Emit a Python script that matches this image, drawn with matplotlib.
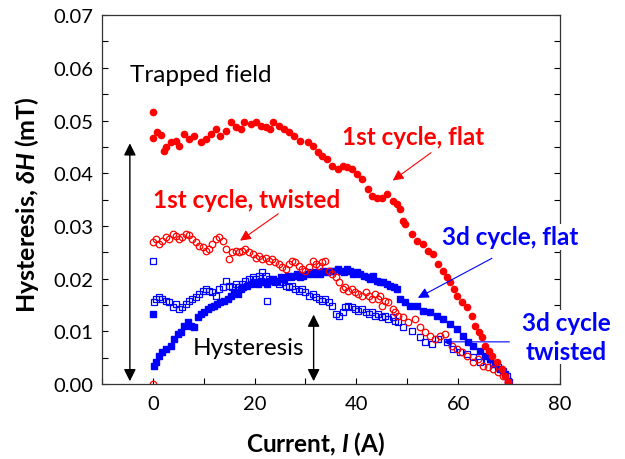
import matplotlib
matplotlib.use('Agg')
import matplotlib.pyplot as plt
from matplotlib.ticker import MultipleLocator

plt.rcParams['font.family'] = ['Lato', 'DejaVu Sans']
plt.rcParams['mathtext.fontset'] = 'custom'
plt.rcParams['mathtext.it'] = 'Lato:bold:italic'
plt.rcParams['mathtext.rm'] = 'Lato:bold'

# 1st cycle, flat (red filled circles)
flat1_x = [0.1, 0, 0.8, 1.6, 2.2, 2.6, 3.5, 4.5, 5.1, 6.1, 7.1, 8.1, 9.4, 10.4, 11.4, 12.4, 13.3, 14.3,
           15.3, 16.3, 17.3, 17.9, 19.2, 20.2, 21.2, 22.2, 23.1, 23.7, 24.8, 25.7, 26.7, 27.7, 29.0,
           30.4, 31.4, 32.4, 33.3, 34.3, 35.3, 36.3, 37.3, 38.2, 39.2, 40.2, 41.2, 42.2, 43.1, 44.1,
           45.1, 46.1, 47.1, 48.0, 48.6, 49.2, 49.6, 51.0, 52.0, 53.0, 54.1, 55.1, 56.1, 57.0, 57.8,
           58.4, 59.1, 59.8, 60.8, 61.8, 62.7, 63.3, 64.0, 64.7, 65.3, 66.0, 66.7, 67.6, 68.6, 69.2, 69.8]
flat1_y = [0.0516, 0.0467, 0.0478, 0.0472, 0.0442, 0.045, 0.0459, 0.0461, 0.0452, 0.0474, 0.0465,
           0.0471, 0.046, 0.0465, 0.0474, 0.0484, 0.0471, 0.048, 0.0497, 0.0488, 0.0484, 0.0497,
           0.0493, 0.0497, 0.049, 0.0488, 0.0484, 0.0497, 0.049, 0.0484, 0.0478, 0.0471, 0.0461,
           0.0459, 0.0452, 0.044, 0.0433, 0.0427, 0.0414, 0.0408, 0.0414, 0.0412, 0.0408, 0.0398,
           0.0389, 0.037, 0.0357, 0.0353, 0.0353, 0.036, 0.0347, 0.0342, 0.0332, 0.031, 0.0304,
           0.0285, 0.0272, 0.0266, 0.0253, 0.0247, 0.0228, 0.0215, 0.0203, 0.0194, 0.018, 0.0167,
           0.0156, 0.0146, 0.0129, 0.011, 0.0099, 0.0089, 0.0072, 0.0062, 0.0053, 0.0042, 0.0028,
           0.0015, 0.0004]

# 1st cycle, twisted (red open circles)
tw1_x = [0, 0, 0.6, 1.2, 1.9, 2.6, 3.2, 3.9, 4.5, 5.1, 5.8, 6.5, 7.1, 7.8, 8.5, 9.1, 9.8, 10.4, 11.0,
         11.7, 12.4, 13.0, 13.7, 14.3, 15.0, 15.6, 16.3, 17.0, 17.6, 18.2, 18.9, 19.6, 20.2, 20.9,
         21.5, 22.2, 22.8, 23.5, 24.1, 24.8, 25.4, 26.1, 26.7, 27.4, 28.0, 28.7, 29.4, 30.0, 30.6,
         31.4, 32.0, 32.6, 33.3, 33.9, 34.6, 35.3, 35.9, 36.5, 37.3, 37.8, 38.4, 39.2, 39.8, 40.4,
         41.2, 41.8, 42.4, 43.1, 43.7, 44.3, 44.7, 45.1, 45.7, 46.3, 47.1, 47.6, 48.2, 49.2, 50.2,
         51.6, 52.5, 53.5, 54.5, 55.5, 56.5, 57.5, 58.8, 59.8, 60.8, 61.8, 62.9, 63.9, 64.9, 65.9,
         66.9, 67.8, 68.8, 69.8]
tw1_y = [0.0, 0.027, 0.0275, 0.0266, 0.0272, 0.0279, 0.0275, 0.0285, 0.0281, 0.0275, 0.0279, 0.0285,
         0.0283, 0.0275, 0.027, 0.0262, 0.026, 0.0253, 0.0256, 0.0266, 0.0275, 0.0279, 0.0272,
         0.0256, 0.0237, 0.025, 0.0253, 0.025, 0.0253, 0.0256, 0.025, 0.0247, 0.024, 0.0243, 0.0237,
         0.024, 0.0234, 0.0237, 0.0231, 0.0228, 0.0222, 0.0218, 0.0228, 0.0234, 0.0231, 0.0224,
         0.0218, 0.0214, 0.0222, 0.0234, 0.0228, 0.0224, 0.0231, 0.0234, 0.0214, 0.0209, 0.0203,
         0.0194, 0.018, 0.0184, 0.0177, 0.018, 0.0175, 0.0171, 0.0167, 0.0175, 0.0167, 0.0161,
         0.0171, 0.0161, 0.0167, 0.0148, 0.0158, 0.0156, 0.0142, 0.0137, 0.0129, 0.0127, 0.0118,
         0.0123, 0.0108, 0.0099, 0.0091, 0.0085, 0.0091, 0.0095, 0.0072, 0.0066, 0.006, 0.0053,
         0.0042, 0.0047, 0.0034, 0.0032, 0.0028, 0.0023, 0.0015, 0.0004]

# 3d cycle, flat (blue filled squares)
flat3_x = [0, 0.2, 0.6, 1.2, 1.9, 2.6, 3.5, 4.1, 4.9, 5.5, 6.1, 6.9, 7.5, 8.1, 8.8, 9.4, 10.0, 10.8,
           11.4, 12.0, 12.7, 13.3, 13.9, 14.7, 15.3, 15.9, 16.7, 17.3, 17.8, 18.6, 19.2, 19.8, 20.6,
           21.2, 21.8, 22.5, 23.1, 23.7, 24.5, 25.1, 25.7, 26.5, 27.1, 27.6, 28.4, 29.0, 29.6, 30.4,
           31.0, 31.6, 32.4, 32.9, 33.5, 34.3, 34.9, 35.5, 36.3, 36.9, 37.5, 38.2, 38.8, 39.4, 40.2,
           40.8, 41.4, 42.2, 42.7, 43.3, 44.1, 44.7, 45.3, 46.1, 46.7, 47.3, 48.0, 48.6, 49.6, 50.6,
           52.0, 53.1, 54.5, 55.9, 57.1, 58.4, 59.8, 61.0, 62.0, 62.9, 64.3, 65.3, 66.3, 67.3, 68.2,
           69.2, 69.8]
flat3_y = [0.0133, 0.0034, 0.0042, 0.0053, 0.006, 0.0066, 0.0072, 0.0085, 0.0095, 0.0099, 0.011,
           0.0118, 0.011, 0.0108, 0.0127, 0.0133, 0.0137, 0.0142, 0.0146, 0.0148, 0.0152, 0.0156,
           0.0158, 0.0161, 0.0167, 0.0175, 0.0171, 0.018, 0.0184, 0.0186, 0.019, 0.0194, 0.019,
           0.0196, 0.0194, 0.019, 0.0196, 0.0199, 0.0196, 0.0203, 0.0199, 0.0205, 0.0203, 0.0205,
           0.0209, 0.0203, 0.0205, 0.0209, 0.0213, 0.0209, 0.0213, 0.0209, 0.0214, 0.0213, 0.0214,
           0.0214, 0.0218, 0.0214, 0.0213, 0.0218, 0.0214, 0.0209, 0.0213, 0.0209, 0.0205, 0.0203,
           0.0199, 0.0205, 0.0196, 0.0194, 0.0194, 0.019, 0.0186, 0.0184, 0.018, 0.0161, 0.0156,
           0.0148, 0.0148, 0.0139, 0.0137, 0.0129, 0.0123, 0.0114, 0.0104, 0.0091, 0.008, 0.0072,
           0.0063, 0.0053, 0.0047, 0.0038, 0.0028, 0.0019, 0.0006]

# 3d cycle, twisted (blue open squares)
tw3_x = [0, 0.2, 0.6, 1.2, 1.9, 2.6, 3.2, 3.9, 4.5, 5.1, 5.8, 6.5, 7.1, 7.8, 8.5, 9.1, 9.8, 10.4, 11.0,
         11.7, 12.4, 13.0, 13.7, 14.3, 15.0, 15.6, 16.3, 17.0, 17.6, 18.2, 18.9, 19.6, 20.2, 20.9,
         21.5, 22.2, 22.5, 22.8, 23.5, 24.1, 24.8, 25.4, 26.1, 26.7, 27.4, 28.0, 28.7, 29.4, 30.0,
         30.6, 31.4, 32.0, 32.6, 33.3, 33.9, 34.6, 35.3, 35.9, 36.5, 37.3, 37.8, 38.4, 39.2, 39.8,
         40.4, 41.2, 41.8, 42.4, 43.1, 43.7, 44.3, 45.1, 45.7, 46.3, 47.1, 47.6, 48.2, 49.2, 51.0,
         52.5, 53.5, 54.9, 56.1, 57.8, 59.0, 60.4, 61.8, 62.9, 64.3, 65.7, 66.9, 67.8, 68.8, 69.6,
         70.0]
tw3_y = [0.0234, 0.0156, 0.0161, 0.0165, 0.0161, 0.0158, 0.0156, 0.0146, 0.0152, 0.0142, 0.0146,
         0.0152, 0.0158, 0.0161, 0.0165, 0.0171, 0.0177, 0.018, 0.0177, 0.0175, 0.0167, 0.018,
         0.0184, 0.0196, 0.0186, 0.0184, 0.019, 0.0184, 0.019, 0.0196, 0.0199, 0.0203, 0.0199,
         0.0205, 0.0213, 0.0205, 0.0158, 0.0199, 0.0196, 0.0194, 0.019, 0.0194, 0.0186, 0.0184,
         0.0186, 0.018, 0.0177, 0.018, 0.0175, 0.0167, 0.0171, 0.0165, 0.0161, 0.0158, 0.0161,
         0.0156, 0.0148, 0.0133, 0.0129, 0.0137, 0.0146, 0.0148, 0.0146, 0.0142, 0.0139, 0.0142,
         0.0137, 0.0133, 0.0137, 0.0129, 0.0133, 0.0127, 0.0129, 0.0123, 0.0127, 0.012, 0.0118,
         0.0108, 0.0101, 0.0089, 0.008, 0.0076, 0.0085, 0.008, 0.0066, 0.006, 0.0057, 0.0051,
         0.0042, 0.0044, 0.0038, 0.0032, 0.0025, 0.0015, 0.0004]

RED = '#FF0000'
BLUE = '#0000FF'
TXT = 17.5

fig = plt.figure(figsize=(6.25, 4.6), dpi=100)
ax = fig.add_axes([0.163, 0.163, 0.733, 0.802])

ax.plot(tw3_x, tw3_y, linestyle='none', marker='s', markersize=4.2, markerfacecolor='none',
        markeredgecolor=BLUE, markeredgewidth=0.9)
ax.plot(flat3_x, flat3_y, linestyle='none', marker='s', markersize=4.4, color=BLUE)
ax.plot(tw1_x, tw1_y, linestyle='none', marker='o', markersize=4.7, markerfacecolor='none',
        markeredgecolor=RED, markeredgewidth=0.9)
ax.plot(flat1_x, flat1_y, linestyle='none', marker='o', markersize=4.5, color=RED)

ax.set_xlim(-10, 80)
ax.set_ylim(0, 0.07)
ax.xaxis.set_major_locator(MultipleLocator(20))
ax.xaxis.set_minor_locator(MultipleLocator(10))
ax.yaxis.set_major_locator(MultipleLocator(0.01))
ax.yaxis.set_minor_locator(MultipleLocator(0.005))
ax.yaxis.set_major_formatter(plt.FuncFormatter(lambda v, p: f'{v:.2f}'))
ax.tick_params(which='both', direction='in', length=4, width=0.8, labelsize=14.5, top=False, right=True)
ax.tick_params(axis='x', pad=8)
ax.tick_params(axis='y', pad=6)
for s in ax.spines.values():
    s.set_linewidth(0.9)
    s.set_color('#333333')

fig.text(316 / 625, 1 - 444 / 460, r'Current, $I$ (A)', fontsize=17.5, fontweight='bold',
         ha='center', va='center')
fig.text(27 / 625, 1 - 205 / 460, r'Hysteresis, $\delta H$ (mT)', fontsize=18, fontweight='bold',
         ha='center', va='center', rotation=90)

# annotations
ax.text(-4.5, 0.0588, 'Trapped field', fontsize=TXT, va='center', ha='left')
ax.annotate('', xy=(-4.5, 0.0), xytext=(-4.5, 0.0462),
            arrowprops=dict(arrowstyle='<|-|>', color='black', lw=1, mutation_scale=18), annotation_clip=False)
ax.text(7.8, 0.0070, 'Hysteresis', fontsize=TXT, va='center', ha='left')
ax.annotate('', xy=(31.6, 0.0), xytext=(31.6, 0.0137),
            arrowprops=dict(arrowstyle='<|-|>', color='black', lw=1, mutation_scale=18), annotation_clip=False)

ax.text(37.1, 0.0470, '1st cycle, flat', fontsize=TXT, fontweight='bold', color=RED, va='center', ha='left')
ax.annotate('', xy=(46.7, 0.0383), xytext=(55.1, 0.0442),
            arrowprops=dict(arrowstyle='-|>', color=RED, lw=0.8, mutation_scale=16))
ax.text(0.0, 0.0351, '1st cycle, twisted', fontsize=TXT, fontweight='bold', color=RED, va='center', ha='left')
ax.annotate('', xy=(16.7, 0.0269), xytext=(25.1, 0.0326),
            arrowprops=dict(arrowstyle='-|>', color=RED, lw=0.8, mutation_scale=16))
ax.text(56.9, 0.0279, '3d cycle, flat', fontsize=TXT, fontweight='bold', color=BLUE, va='center', ha='left',
        bbox=dict(facecolor='white', edgecolor='none', pad=1), clip_on=False)
ax.annotate('', xy=(51.6, 0.0161), xytext=(67.1, 0.0241),
            arrowprops=dict(arrowstyle='-|>', color=BLUE, lw=0.8, mutation_scale=16))
ax.text(81.2, 0.0089, '3d cycle\ntwisted', fontsize=TXT, fontweight='bold', color=BLUE, va='center',
        ha='center', linespacing=1.3, bbox=dict(facecolor='white', edgecolor='none', pad=1), clip_on=False)
ax.annotate('', xy=(56.5, 0.0080), xytext=(70.6, 0.0080),
            arrowprops=dict(arrowstyle='-|>', color=BLUE, lw=0.8, mutation_scale=12))

fig.savefig('out.png', dpi=100)
